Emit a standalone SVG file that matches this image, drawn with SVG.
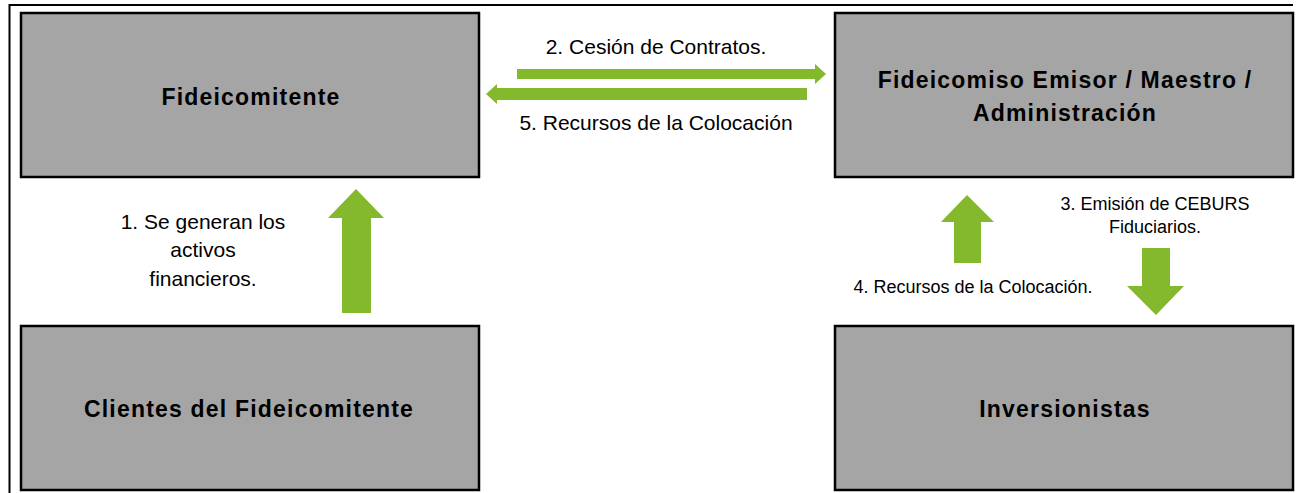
<svg xmlns="http://www.w3.org/2000/svg" width="1298" height="493" viewBox="0 0 1298 493">
<style>
.box{fill:#a5a5a5;stroke:#000;stroke-width:2.5}
.frame{fill:none;stroke:#000;stroke-width:2}
.arrow{fill:#84b82d}
.title{font-family:"Liberation Sans",Arial,sans-serif;font-weight:bold;font-size:23px;letter-spacing:1.2px;fill:#000;text-anchor:middle}
.lbl{font-family:"Liberation Sans",Arial,sans-serif;font-size:21px;fill:#000;text-anchor:middle}
.sm{font-family:"Liberation Sans",Arial,sans-serif;font-size:18px;fill:#000;text-anchor:middle}
</style>
<rect width="1298" height="493" fill="#fff"/>
<polyline class="frame" points="9.5,493 9.5,5 1293,5"/>
<g id="fideicomitente">
<rect class="box" x="21" y="13" width="458" height="164"/>
<text class="title" x="251" y="105">Fideicomitente</text>
</g>
<g id="fideicomiso">
<rect class="box" x="835" y="13" width="458" height="164"/>
<text class="title" x="1065" y="88">Fideicomiso Emisor / Maestro /</text>
<text class="title" x="1065" y="121">Administración</text>
</g>
<g id="clientes">
<rect class="box" x="21" y="326" width="458" height="164"/>
<text class="title" x="249" y="417">Clientes del Fideicomitente</text>
</g>
<g id="inversionistas">
<rect class="box" x="835" y="326" width="458" height="164"/>
<text class="title" x="1065" y="417">Inversionistas</text>
</g>
<g id="connectors">
<polygon class="arrow" points="517,69 815,69 815,64 826,74 815,84 815,79 517,79"/>
<polygon class="arrow" points="807,88 497,88 497,84 486,94 497,104 497,100 807,100"/>
<polygon class="arrow" points="342,313 342,218 328,218 356,189 384,218 371,218 371,313"/>
<polygon class="arrow" points="954,263 954,222 941,222 967,195 994,222 981,222 981,263"/>
<polygon class="arrow" points="1142,248 1170,248 1170,286 1184,286 1156,315 1127,286 1142,286"/>
</g>
<g id="labels">
<text class="lbl" x="656" y="54">2. Cesión de Contratos.</text>
<text class="lbl" x="656" y="130">5. Recursos de la Colocación</text>
<text class="lbl" x="203" y="229">1. Se generan los</text>
<text class="lbl" x="203" y="257">activos</text>
<text class="lbl" x="203" y="286">financieros.</text>
<text class="sm" x="1155" y="210">3. Emisión de CEBURS</text>
<text class="sm" x="1155" y="233">Fiduciarios.</text>
<text class="sm" x="973" y="293">4. Recursos de la Colocación.</text>
</g>
</svg>
